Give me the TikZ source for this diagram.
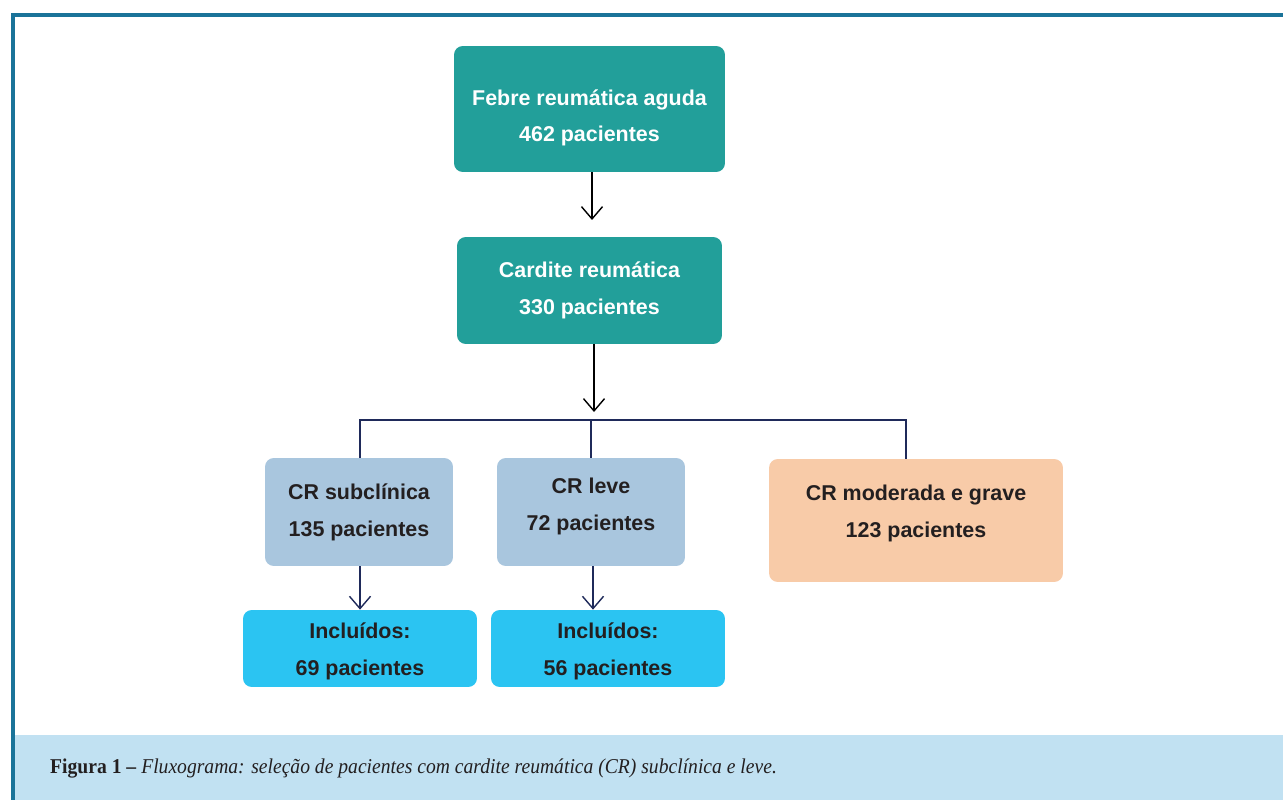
\documentclass[tikz,border=0pt]{standalone}
\usepackage{fontspec}
\setmainfont{Liberation Serif}
\newfontfamily\boxfont{Liberation Sans}
\newfontfamily\capfont[FakeStretch=0.93]{Liberation Serif}
\usetikzlibrary{arrows.meta, positioning, calc}

\definecolor{frameblue}{HTML}{1A7399}
\definecolor{capband}{HTML}{C1E1F2}
\definecolor{tealbox}{HTML}{229F9A}
\definecolor{greybox}{HTML}{A9C6DE}
\definecolor{peachbox}{HTML}{F8CBA8}
\definecolor{cyanbox}{HTML}{2BC4F2}
\definecolor{navyline}{HTML}{1F2A5A}
\definecolor{darktext}{HTML}{231F20}

\tikzset{
    stage/.style={draw=none, rectangle, rounded corners=5pt, align=center,
        font=\boxfont\bfseries\fontsize{12.2}{21}\selectfont},
    topstage/.style={stage, fill=tealbox, text=white},
    groupbox/.style={stage, fill=greybox, text=darktext},
    outbox/.style={stage, fill=peachbox, text=darktext},
    inclbox/.style={stage, fill=cyanbox, text=darktext},
    flow/.style={-{Straight Barb[length=7pt, width=12pt]}, thick, black},
    bus/.style={thick, navyline},
    busflow/.style={bus, -{Straight Barb[length=7pt, width=12pt]}}
}

\begin{document}
\begin{tikzpicture}[x=0.02cm, y=-0.02cm]
        \useasboundingbox (0,0) rectangle (1283,800);
        % frame and caption band
        \fill[capband] (15,735) rectangle (1283,800);
        \draw[frameblue, line width=2pt] (13,800) -- (13,15) -- (1283,15);
        \node[anchor=west, font=\capfont\fontsize{12}{14}\selectfont, text=darktext] (caption) at (44,768)
            {\textbf{Figura 1 –} \textit{Fluxograma: seleção de pacientes com cardite reumática (CR) subclínica e leve.}};

        % boxes
        \node[topstage, minimum width=5.42cm, minimum height=2.52cm, text height=40pt] (febre) at (589.5,109)
            {Febre reumática aguda\\462 pacientes};
        \node[topstage, minimum width=5.30cm, minimum height=2.14cm] (cardite) at (589.5,290.5)
            {Cardite reumática\\330 pacientes};
        \node[groupbox, minimum width=3.76cm, minimum height=2.16cm] (subcl) at (359,512)
            {CR subclínica\\135 pacientes};
        \node[groupbox, minimum width=3.76cm, minimum height=2.16cm, text depth=8.9pt] (leve) at (591,512)
            {CR leve\\72 pacientes};
        \node[outbox, minimum width=5.88cm, minimum height=2.46cm, text depth=11pt] (grave) at (916,520.5)
            {CR moderada e grave\\123 pacientes};
        \node[inclbox, minimum width=4.68cm, minimum height=1.54cm, text height=33pt] (inclA) at (360,648.5)
            {Incluídos:\\69 pacientes};
        \node[inclbox, minimum width=4.68cm, minimum height=1.54cm, text height=33pt] (inclB) at (608,648.5)
            {Incluídos:\\56 pacientes};

        % connectors
        \coordinate (split) at (594,412);
        \coordinate (barL) at (360,420);
        \coordinate (barR) at (906,420);
        \draw[flow] (febre.south -| 592,0) -- (592,220);
        \draw[flow] (cardite.south -| split) -- (split);
        \draw[bus] (barL |- subcl.north) -- (barL) -- (barR) -- (barR |- grave.north);
        \draw[bus] (barL -| leve.north) -- (leve.north);
        \draw[busflow] (subcl.south -| inclA.north) -- (inclA.north);
        \draw[busflow] (leve.south -| 593,0) -- (inclB.north -| 593,0);
\end{tikzpicture}
\end{document}
